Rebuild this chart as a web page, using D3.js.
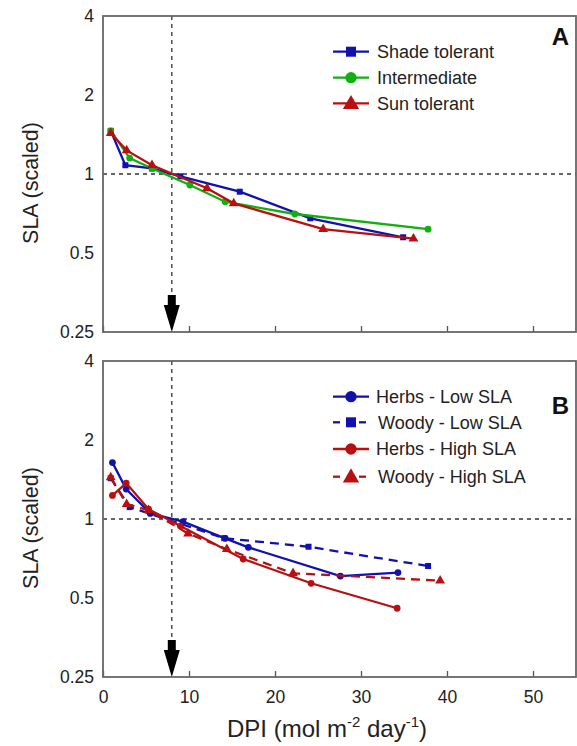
<!DOCTYPE html>
<html><head><meta charset="utf-8">
<script src="https://cdn.jsdelivr.net/npm/d3@7"></script>
<style>body{margin:0;background:#fff}svg{display:block;font-family:Arial,"Liberation Sans",sans-serif}</style>
</head><body><svg id="c" width="577" height="746"></svg>
<script>
// ---- data ----
const xTicks = [0, 10, 20, 30, 40, 50];
const yTicks = [0.25, 0.5, 1, 2, 4];
const yTickLabels = ["0.25", "0.5", "1", "2", "4"];
const refDPI = 8;

const shadeX = [0.9, 2.6, 5.7, 9.0, 15.9, 24.1, 34.9];
const shadeY = [1.46, 1.08, 1.05, 0.98, 0.856, 0.678, 0.574];
const interX = [0.9, 3.1, 5.7, 10.1, 14.2, 22.3, 37.8];
const interY = [1.46, 1.15, 1.05, 0.908, 0.784, 0.704, 0.616];
const sunX = [0.9, 2.75, 5.7, 12.1, 15.2, 25.6, 36.1];
const sunY = [1.43, 1.23, 1.08, 0.882, 0.773, 0.616, 0.567];

const herbLowX = [1.1, 2.7, 5.5, 9.3, 14.2, 16.9, 27.6, 34.3];
const herbLowY = [1.64, 1.30, 1.05, 0.977, 0.844, 0.78, 0.606, 0.625];
const woodyLowX = [0.9, 3.1, 14.1, 23.9, 37.8];
const woodyLowY = [1.43, 1.11, 0.845, 0.784, 0.662];
const herbHighX = [1.1, 2.7, 5.3, 9.0, 16.3, 24.2, 34.2];
const herbHighY = [1.23, 1.37, 1.09, 0.94, 0.704, 0.569, 0.457];
const woodyHighX = [0.9, 2.75, 5.3, 9.9, 14.4, 22.1, 39.2];
const woodyHighY = [1.44, 1.14, 1.08, 0.88, 0.767, 0.621, 0.582];

const legendA = ["Shade tolerant", "Intermediate", "Sun tolerant"];
const legendB = ["Herbs - Low SLA", "Woody - Low SLA", "Herbs - High SLA", "Woody - High SLA"];

const BLUE = "#1111b0", GREEN = "#11b011", RED = "#b81010";

const seriesA = [
  {name: legendA[0], xs: shadeX, ys: shadeY, color: BLUE, sym: "square", dash: null},
  {name: legendA[1], xs: interX, ys: interY, color: GREEN, sym: "circle", dash: null},
  {name: legendA[2], xs: sunX, ys: sunY, color: RED, sym: "triangle", dash: null}
];
const seriesB = [
  {name: legendB[0], xs: herbLowX, ys: herbLowY, color: BLUE, sym: "circle", dash: null},
  {name: legendB[1], xs: woodyLowX, ys: woodyLowY, color: BLUE, sym: "square", dash: "9,6"},
  {name: legendB[2], xs: herbHighX, ys: herbHighY, color: RED, sym: "circle", dash: null},
  {name: legendB[3], xs: woodyHighX, ys: woodyHighY, color: RED, sym: "triangle", dash: "9,6"}
];

// ---- drawing ----
const svg = d3.select("#c");
const left = 103, right = 576;
const x = d3.scaleLinear().domain([0, 55]).range([left, right]);

function symPath(sym, size) {
  const t = sym === "square" ? d3.symbolSquare : sym === "circle" ? d3.symbolCircle : d3.symbolTriangle;
  return d3.symbol().type(t).size(size)();
}

function panel(top, bottom, series, label, showXLabels, legendYs, legendTextX) {
  const y = d3.scaleLog().base(2).domain([0.25, 4]).range([bottom, top]);
  const g = svg.append("g");
  g.append("line").attr("x1", left).attr("x2", right).attr("y1", y(1)).attr("y2", y(1))
    .attr("stroke", "#333").attr("stroke-width", 1.3).attr("stroke-dasharray", "4,4");
  g.append("line").attr("x1", x(refDPI)).attr("x2", x(refDPI)).attr("y1", top).attr("y2", bottom - 38)
    .attr("stroke", "#333").attr("stroke-width", 1.3).attr("stroke-dasharray", "4,4");
  const ax = x(refDPI);
  g.append("path").attr("d",
    `M${ax-4},${bottom-37} L${ax+4},${bottom-37} L${ax+4},${bottom-27} L${ax+8},${bottom-27} L${ax},${bottom} L${ax-8},${bottom-27} L${ax-4},${bottom-27} Z`)
    .attr("fill", "#000");
  const xa = d3.axisBottom(x).tickValues(xTicks).tickSizeInner(-6).tickSizeOuter(0)
    .tickFormat(showXLabels ? d3.format("d") : () => "");
  const xg = g.append("g").attr("transform", `translate(0,${bottom})`).call(xa);
  xg.select(".domain").remove();
  xg.selectAll(".tick line").attr("stroke", "#555").attr("stroke-width", 1.3);
  xg.selectAll("text").attr("font-size", 17.5).attr("fill", "#222").attr("dy", "1.05em")
    .attr("transform", "translate(0,5)");
  const ya = d3.axisLeft(y).tickValues(yTicks).tickSize(0).tickPadding(9)
    .tickFormat((d, i) => yTickLabels[i]);
  const yg = g.append("g").attr("transform", `translate(${left},0)`).call(ya);
  yg.select(".domain").remove();
  yg.selectAll("text").attr("font-size", 17.5).attr("fill", "#222");
  g.append("rect").attr("x", left).attr("y", top).attr("width", right - left).attr("height", bottom - top)
    .attr("fill", "none").attr("stroke", "#666").attr("stroke-width", 1.8);
  g.append("text").attr("transform", `translate(38,${(top + bottom) / 2 + 9}) rotate(-90)`)
    .attr("text-anchor", "middle").attr("font-size", 21.5).attr("fill", "#222").text("SLA (scaled)");
  const line = d3.line().x(d => x(d[0])).y(d => y(d[1]));
  series.forEach(s => {
    const pts = s.xs.map((v, i) => [v, s.ys[i]]);
    g.append("path").datum(pts).attr("d", line).attr("fill", "none").attr("stroke", s.color)
      .attr("stroke-width", 2.3).attr("stroke-dasharray", s.dash);
    g.selectAll(null).data(pts).enter().append("path")
      .attr("d", symPath(s.sym, s.sym === "triangle" ? 42 : 36))
      .attr("transform", d => `translate(${x(d[0])},${y(d[1])})`).attr("fill", s.color);
  });
  series.forEach((s, i) => {
    const ly = legendYs[i];
    const lg = g.append("g");
    if (s.dash) {
      lg.append("line").attr("x1", 333).attr("x2", 340).attr("y1", ly).attr("y2", ly).attr("stroke", s.color).attr("stroke-width", 2.3);
      lg.append("line").attr("x1", 359).attr("x2", 366).attr("y1", ly).attr("y2", ly).attr("stroke", s.color).attr("stroke-width", 2.3);
    } else {
      lg.append("line").attr("x1", 333).attr("x2", 369).attr("y1", ly).attr("y2", ly).attr("stroke", s.color).attr("stroke-width", 2.3);
    }
    lg.append("path").attr("d", symPath(s.sym, s.sym === "triangle" ? 115 : 100))
      .attr("transform", `translate(351,${ly + (s.sym === "triangle" ? 1 : 0)})`).attr("fill", s.color);
    lg.append("text").attr("x", legendTextX[i]).attr("y", ly).attr("dy", "0.36em")
      .attr("font-size", 18).attr("fill", "#222").text(s.name);
  });
  g.append("text").attr("x", 569).attr("y", top + (label === "A" ? 29 : 53)).attr("text-anchor", "end")
    .attr("font-size", 24).attr("font-weight", "bold").attr("fill", "#111").text(label);
}

panel(16, 332, seriesA, "A", false, [51.7, 77.7, 103.3], [377, 377, 377]);
panel(361, 677, seriesB, "B", true, [396.7, 422.3, 449, 476.7], [376, 378, 376, 378]);

const xt = svg.append("text").attr("x", 327).attr("y", 737).attr("text-anchor", "middle")
  .attr("font-size", 24).attr("fill", "#222");
xt.append("tspan").text("DPI (mol m");
xt.append("tspan").attr("dy", -10).attr("font-size", 15).text("-2");
xt.append("tspan").attr("dy", 10).text(" day");
xt.append("tspan").attr("dy", -10).attr("font-size", 15).text("-1");
xt.append("tspan").attr("dy", 10).text(")");
</script></body></html>
